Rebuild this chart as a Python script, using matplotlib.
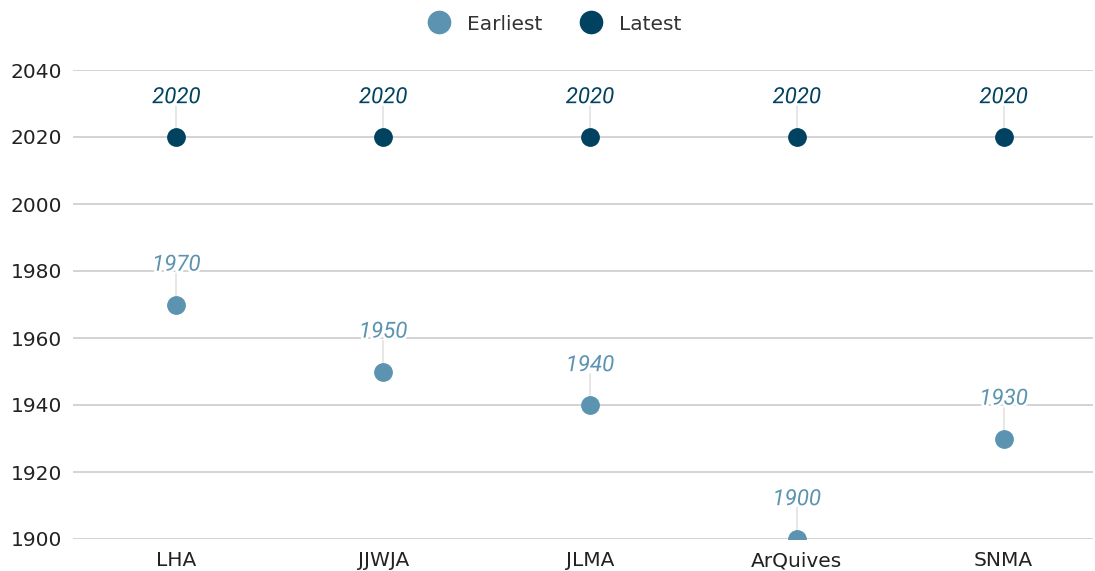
import matplotlib.pyplot as plt
import matplotlib.patheffects as pe
from matplotlib.lines import Line2D

# Range of years per source
sources = ["LHA", "JJWJA", "JLMA", "ArQuives", "SNMA"]
earliest = [1970, 1950, 1940, 1900, 1930]
latest = [2020, 2020, 2020, 2020, 2020]

c_early = "#5b93b0"
c_late = "#00425f"
grid_c = "#cccccc"
txt_c = "#222222"

plt.rcParams["font.family"] = ["DejaVu Sans"]

fig = plt.figure(figsize=(10.95, 5.71), dpi=100)
ax = fig.add_axes([73 / 1095, 32 / 571, (1093 - 73) / 1095, 469 / 571])

x = list(range(len(sources)))
halo = [pe.withStroke(linewidth=4, foreground="white")]

for vals, col in [(earliest, c_early), (latest, c_late)]:
    for xi, v in zip(x, vals):
        # thin leader from the dot up to its label
        ax.plot([xi, xi], [v, v + 9.2], color="#e3e3e3", lw=1.2, zorder=2,
                clip_on=False)
        ax.text(xi, v + 10.1, str(v), ha="center", va="baseline", fontsize=16,
                family="Roboto", style="italic", color=col, zorder=4,
                path_effects=halo, clip_on=False)
    ax.plot(x, vals, "o", color=col, markersize=12.5, linestyle="none",
            zorder=3)

ax.set_xlim(-0.5, 4.432)
ax.set_ylim(1900, 2040)
ax.set_yticks(range(1900, 2041, 20))
ax.set_xticks(x)
ax.set_xticklabels(sources)
ax.grid(axis="y", color=grid_c, lw=1.2)
ax.set_axisbelow(True)
for s in ax.spines.values():
    s.set_visible(False)
ax.tick_params(axis="y", length=0, pad=8, labelsize=14.5, labelcolor=txt_c)
ax.tick_params(axis="x", length=0, pad=9, labelsize=14.5, labelcolor=txt_c)

handles = [Line2D([], [], marker="o", color=c, linestyle="none", markersize=16)
           for c in (c_early, c_late)]
fig.legend(handles, ["Earliest", "Latest"], loc="center",
           bbox_to_anchor=(550 / 1095, 1 - 24 / 571), ncol=2, frameon=False,
           fontsize=14.5, handletextpad=0.4, columnspacing=1.4,
           labelcolor="#333333")

fig.savefig("out.png", dpi=100)
